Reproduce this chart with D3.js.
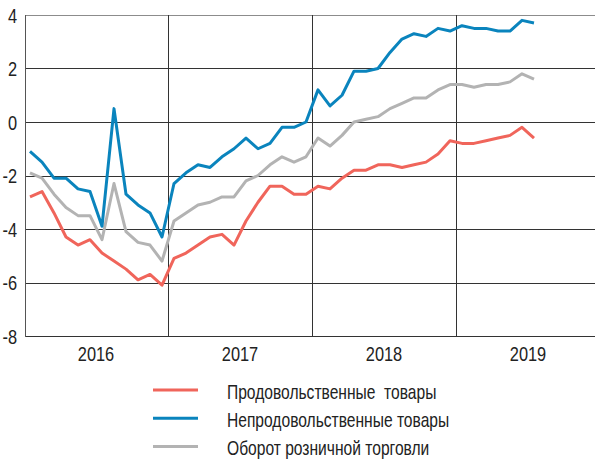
<!DOCTYPE html>
<html>
<head>
<meta charset="utf-8">
<script src="https://cdn.jsdelivr.net/npm/d3@7"></script>
<style>
  body { margin: 0; background: #fff; }
  svg text { font-family: "Liberation Sans", Arial, sans-serif; fill: #222; }
  .grid { stroke: #333; stroke-width: 1; shape-rendering: crispEdges; }
  .series { fill: none; stroke-width: 3; stroke-linejoin: round; }
</style>
</head>
<body>
<div class="chart"></div>
<script>
// monthly values, Jan 2016 .. Jul 2019
const food = [-2.8, -2.6, -3.4, -4.3, -4.6, -4.4, -4.9, -5.2, -5.5, -5.9, -5.7, -6.1,
    -5.1, -4.9, -4.6, -4.3, -4.2, -4.6, -3.7, -3.0, -2.4, -2.4, -2.7, -2.7,
    -2.4, -2.5, -2.1, -1.8, -1.8, -1.6, -1.6, -1.7, -1.6, -1.5, -1.2, -0.7,
    -0.8, -0.8, -0.7, -0.6, -0.5, -0.2, -0.6];
const nonfood = [-1.1, -1.5, -2.1, -2.1, -2.5, -2.6, -3.9, 0.5, -2.7, -3.1, -3.4, -4.3,
    -2.3, -1.9, -1.6, -1.7, -1.3, -1.0, -0.6, -1.0, -0.8, -0.2, -0.2, 0.0,
    1.2, 0.6, 1.0, 1.9, 1.9, 2.0, 2.6, 3.1, 3.3, 3.2, 3.5, 3.4,
    3.6, 3.5, 3.5, 3.4, 3.4, 3.8, 3.7];
const retail = [-1.9, -2.1, -2.7, -3.2, -3.5, -3.5, -4.4, -2.3, -4.1, -4.5, -4.6, -5.2,
    -3.7, -3.4, -3.1, -3.0, -2.8, -2.8, -2.2, -2.0, -1.6, -1.3, -1.5, -1.3,
    -0.6, -0.9, -0.5, 0.0, 0.1, 0.2, 0.5, 0.7, 0.9, 0.9, 1.2, 1.4,
    1.4, 1.3, 1.4, 1.4, 1.5, 1.8, 1.6];
const years = ["2016", "2017", "2018", "2019"];
const yTicks = [4, 2, 0, -2, -4, -6, -8];
const seriesNames = ["Продовольственные  товары", "Непродовольственные товары", "Оборот розничной торговли"];
const seriesColors = ["#f0655b", "#0a84bd", "#b3b3b3"];

// narrow font look: squeeze text horizontally
var squeeze = 0.78;

function drawChart(){
    var width = 595, height = 459;
    var left = 25, top = 15, bottom = 336;

    var svg = d3.select(".chart").append("svg")
        .attr("width", width)
        .attr("height", height);

    // 12 slots per year, a point in the middle of each month
    var x = d3.scaleLinear().domain([0, 48]).range([24, 600]);
    var y = d3.scaleLinear().domain([-8, 4]).range([bottom, top]);

    // horizontal grid
    svg.selectAll("line.h")
        .data(yTicks)
        .enter().append("line")
        .attr("class", "grid")
        .attr("x1", left).attr("x2", width)
        .attr("y1", d => Math.round(y(d)) + 0.5)
        .attr("y2", d => Math.round(y(d)) + 0.5)
        .style("stroke", d => d == 4 ? "#8c8c8c" : "#333");

    // year separators
    svg.selectAll("line.v")
        .data([1, 2, 3])
        .enter().append("line")
        .attr("class", "grid")
        .attr("x1", d => Math.round(x(d * 12)) + 0.5)
        .attr("x2", d => Math.round(x(d * 12)) + 0.5)
        .attr("y1", top).attr("y2", bottom);

    svg.append("line")
        .attr("class", "grid")
        .attr("x1", left + 0.5).attr("x2", left + 0.5)
        .attr("y1", top).attr("y2", bottom + 1)
        .style("stroke", "#555");

    svg.selectAll("text.ytick")
        .data(yTicks)
        .enter().append("text")
        .attr("transform", d => "translate(17," + (y(d) + 7.5) + ") scale(" + squeeze + ",1)")
        .attr("text-anchor", "end")
        .style("font-size", "21px")
        .text(d => d);

    svg.selectAll("text.year")
        .data(years)
        .enter().append("text")
        .attr("transform", (d, i) => "translate(" + x(i * 12 + 6) + ",361) scale(" + squeeze + ",1)")
        .attr("text-anchor", "middle")
        .style("font-size", "21px")
        .text(d => d);

    var line = d3.line()
        .x((d, i) => x(i + 0.5))
        .y(d => y(d));

    [retail, food, nonfood].forEach(function(d){
        var idx = d === food ? 0 : (d === nonfood ? 1 : 2);
        svg.append("path")
            .attr("class", "series")
            .attr("d", line(d))
            .style("stroke", seriesColors[idx]);
    });

    // legend
    seriesNames.forEach(function(name, i){
        var ly = 390 + i * 28.3;
        svg.append("line")
            .attr("x1", 153).attr("x2", 198)
            .attr("y1", ly).attr("y2", ly)
            .style("stroke", seriesColors[i])
            .style("stroke-width", 3);
        svg.append("text")
            .attr("transform", "translate(227," + (ly + 8.5) + ") scale(" + squeeze + ",1)")
            .style("font-size", "20px")
            .style("white-space", "pre")
            .text(name);
    });
}

drawChart();
</script>
</body>
</html>
